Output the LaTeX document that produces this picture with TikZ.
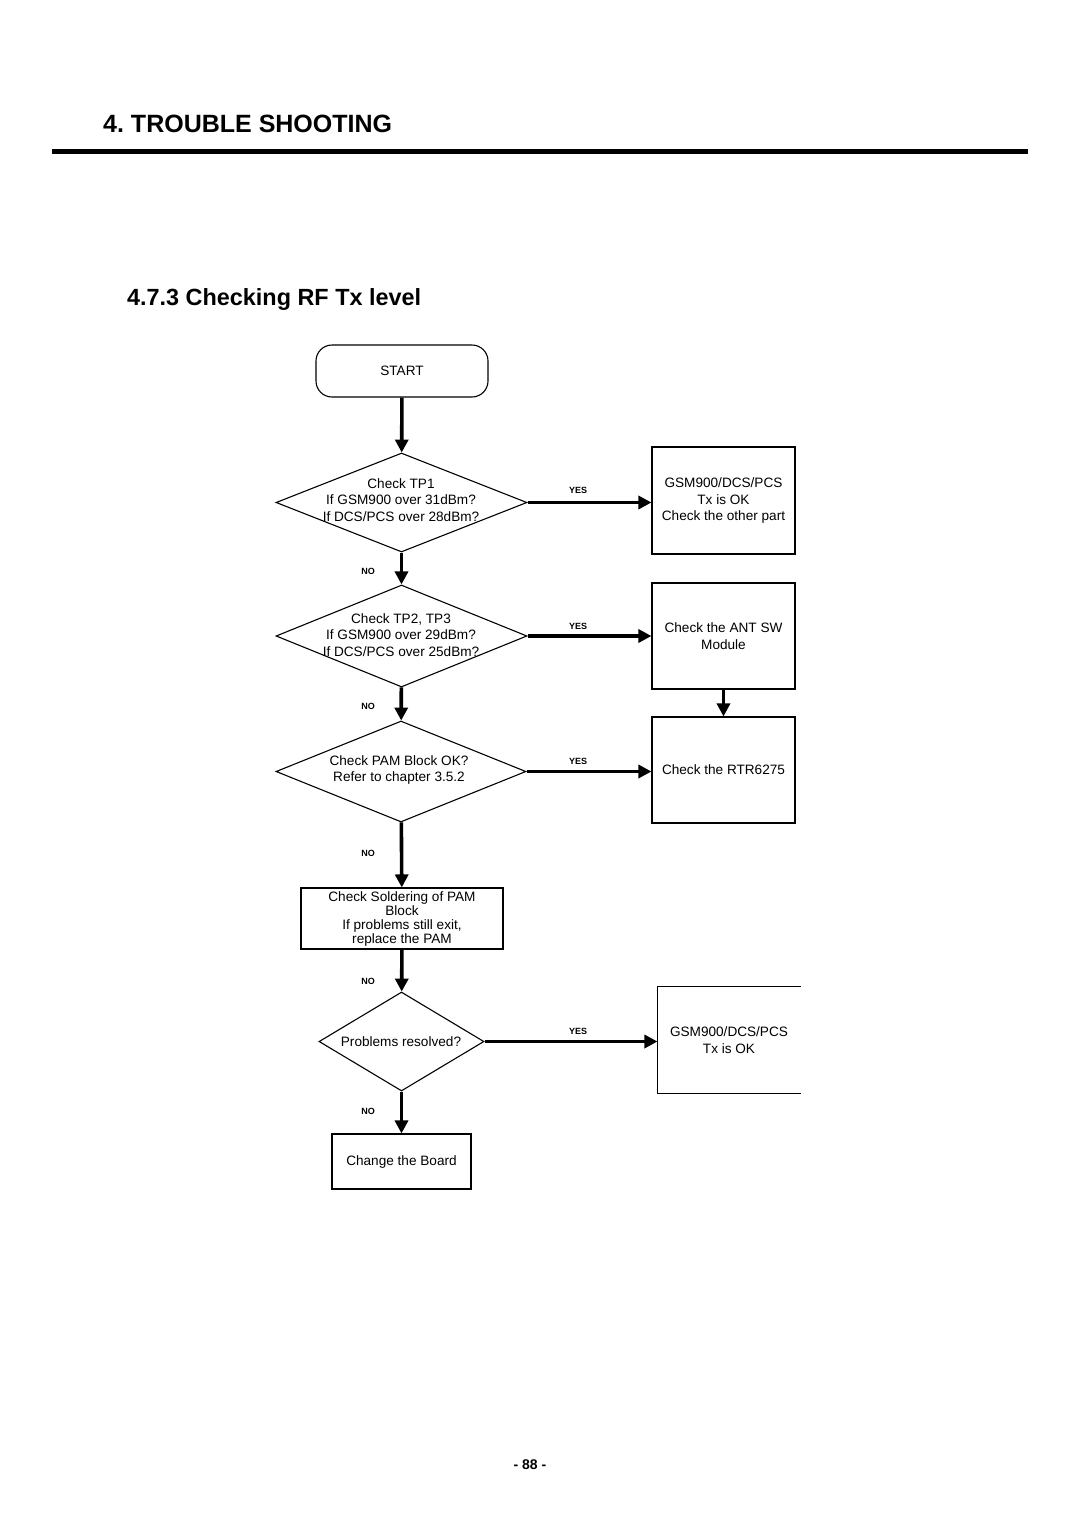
\documentclass[tikz,border=0pt]{standalone}
\usepackage{fontspec}
\setmainfont{Liberation Sans}
\usetikzlibrary{shapes.geometric,arrows.meta}
\frenchspacing
\begin{document}
\begin{tikzpicture}[x=1pt,y=-1pt,
  box/.style={draw, line width=1.1pt, inner sep=0pt, align=center, font=\fontsize{13.6}{16.5}\selectfont},
  dec/.style={draw, diamond, line width=1.1pt, inner sep=0pt},
  txt/.style={align=center, inner sep=0pt, font=\fontsize{13.6}{16.5}\selectfont},
  arr/.style={line width=3.6pt, -{Triangle[length=13pt,width=13pt]}},
  lab/.style={font=\bfseries\fontsize{9}{10}\selectfont, inner sep=0pt}
]
\useasboundingbox (0,0) rectangle (1080,1526);
% header
\node[anchor=base west, inner sep=0pt, font=\bfseries\fontsize{25}{28}\selectfont] (title) at (103,132) {4. TROUBLE SHOOTING};
\coordinate (r1) at (52,151);
\coordinate (r2) at (1028,151);
\draw[line width=5pt] (r1) -- (r2);
\node[anchor=base west, inner sep=0pt, font=\bfseries\fontsize{23.4}{26}\selectfont] (sub) at (127,305) {4.7.3 Checking RF Tx level};
% start
\node[box, rounded corners=16pt, minimum width=172pt, minimum height=52pt] (start) at (402,371) {START};
% diamonds
\node[dec, minimum width=251pt, minimum height=99pt] (d1) at (401.5,502.5) {};
\node[txt] (d1t) at (401,500) {Check TP1\\If GSM900 over 31dBm?\\If DCS/PCS over 28dBm?};
\node[dec, minimum width=251pt, minimum height=102pt] (d2) at (401.5,636) {};
\node[txt] (d2t) at (401,635) {Check TP2, TP3\\If GSM900 over 29dBm?\\If DCS/PCS over 25dBm?};
\node[dec, minimum width=250pt, minimum height=101pt] (d3) at (401,771.5) {};
\node[txt] (d3t) at (399,770) {Check PAM Block OK?\\Refer to chapter 3.5.2};
\node[box, minimum width=202pt, minimum height=61pt, font=\fontsize{13.6}{14}\selectfont] (b4) at (402,918.5) {Check Soldering of PAM\\Block\\If problems still exit,\\replace the PAM};
\node[dec, minimum width=165pt, minimum height=99pt] (d4) at (401.5,1041.5) {};
\node[txt] (d4t) at (401,1042) {Problems resolved?};
\node[box, minimum width=139pt, minimum height=55pt] (b6) at (401.5,1161.5) {Change the Board};
% right boxes
\node[box, minimum width=143pt, minimum height=107pt] (b1) at (723.5,500.5) {GSM900/DCS/PCS\\Tx is OK\\Check the other part};
\node[box, minimum width=143pt, minimum height=106pt] (b2) at (723.5,636) {Check the ANT SW\\Module};
\node[box, minimum width=143pt, minimum height=106pt] (b3) at (723.5,770) {Check the RTR6275};
\node[box, draw=none, minimum width=142pt, minimum height=106pt] (b5) at (729,1040) {GSM900/DCS/PCS\\Tx is OK};
\draw[line width=1.1pt] (b5.north east) -- (b5.north west) -- (b5.south west) -- (b5.south east);
% connectors
\draw[arr] (start) -- (d1);
\draw[arr] (d1.east) -- (b1.west |- d1.east);
\draw[arr] (d1) -- (d2);
\draw[arr] (d2.east) -- (b2.west |- d2.east);
\draw[arr] (b2) -- (b3);
\draw[arr] (d2) -- (d3);
\draw[arr] (d3.east) -- (b3.west |- d3.east);
\draw[arr] (d3) -- (b4);
\draw[arr] (b4) -- (d4);
\draw[arr] (d4.east) -- (b5.west |- d4.east);
\draw[arr] (d4) -- (b6);
% labels
\node[lab] (yes1) at (578,490) {YES};
\node[lab] (yes2) at (578,626) {YES};
\node[lab] (yes3) at (578,761) {YES};
\node[lab] (yes4) at (578,1031) {YES};
\node[lab] (no1) at (368,571) {NO};
\node[lab] (no2) at (368,706) {NO};
\node[lab] (no3) at (368,853) {NO};
\node[lab] (no4) at (368,981) {NO};
\node[lab] (no5) at (368,1111) {NO};
% page number
\node[inner sep=0pt, font=\bfseries\fontsize{14}{16}\selectfont] (page) at (530,1465) {- 88 -};
\end{tikzpicture}
\end{document}
